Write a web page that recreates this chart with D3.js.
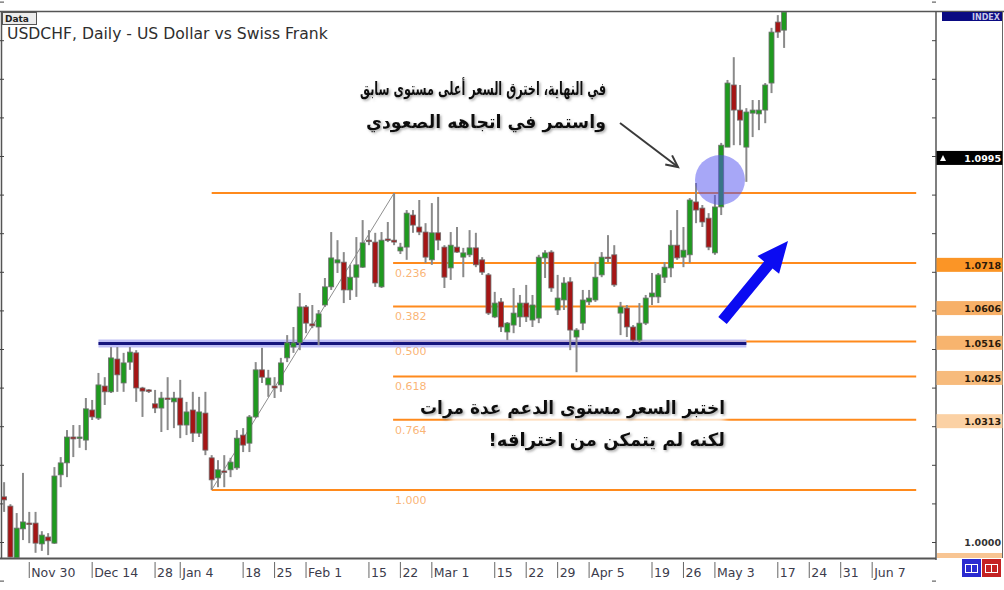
<!DOCTYPE html>
<html><head><meta charset="utf-8">
<script src="https://cdn.jsdelivr.net/npm/d3@7"></script>
<style>html,body{margin:0;padding:0;background:#fff;overflow:hidden}svg{display:block}</style>
</head><body>
<svg id="chart" width="1004" height="590"></svg>
<script>
// ---------------- DATA ----------------
const dates = [
"2009-11-24","2009-11-25","2009-11-26","2009-11-27",
"2009-11-30","2009-12-01","2009-12-02","2009-12-03","2009-12-04",
"2009-12-07","2009-12-08","2009-12-09","2009-12-10","2009-12-11",
"2009-12-14","2009-12-15","2009-12-16","2009-12-17","2009-12-18",
"2009-12-21","2009-12-22","2009-12-23","2009-12-24","2009-12-25",
"2009-12-28","2009-12-29","2009-12-30","2009-12-31",
"2010-01-04","2010-01-05","2010-01-06","2010-01-07","2010-01-08",
"2010-01-11","2010-01-12","2010-01-13","2010-01-14","2010-01-15",
"2010-01-18","2010-01-19","2010-01-20","2010-01-21","2010-01-22",
"2010-01-25","2010-01-26","2010-01-27","2010-01-28","2010-01-29",
"2010-02-01","2010-02-02","2010-02-03","2010-02-04","2010-02-05",
"2010-02-08","2010-02-09","2010-02-10","2010-02-11","2010-02-12",
"2010-02-15","2010-02-16","2010-02-17","2010-02-18","2010-02-19",
"2010-02-22","2010-02-23","2010-02-24","2010-02-25","2010-02-26",
"2010-03-01","2010-03-02","2010-03-03","2010-03-04","2010-03-05",
"2010-03-08","2010-03-09","2010-03-10","2010-03-11","2010-03-12",
"2010-03-15","2010-03-16","2010-03-17","2010-03-18","2010-03-19",
"2010-03-22","2010-03-23","2010-03-24","2010-03-25","2010-03-26",
"2010-03-29","2010-03-30","2010-03-31","2010-04-01","2010-04-02",
"2010-04-05","2010-04-06","2010-04-07","2010-04-08","2010-04-09",
"2010-04-12","2010-04-13","2010-04-14","2010-04-15","2010-04-16",
"2010-04-19","2010-04-20","2010-04-21","2010-04-22","2010-04-23",
"2010-04-26","2010-04-27","2010-04-28","2010-04-29","2010-04-30",
"2010-05-03","2010-05-04","2010-05-05","2010-05-06","2010-05-07",
"2010-05-10","2010-05-11","2010-05-12","2010-05-13","2010-05-14",
"2010-05-17","2010-05-18"];
const holidays = ["2010-01-01"];

const open = [
1.0117,1.0093,0.9959,1.0034,1.0049,1.0049,0.9995,1.0013,0.9997,1.0174,
1.0205,1.0272,1.0269,1.0264,1.0342,1.0321,1.0404,1.0389,1.0474,1.0412,
1.0466,1.0490,1.0399,1.0394,1.0358,1.0347,1.0373,1.0363,1.0373,1.0303,
1.0342,1.0282,1.0334,1.0218,1.0166,1.0184,1.0187,1.0192,1.0277,1.0256,
1.0324,1.0446,1.0407,1.0404,1.0407,1.0477,1.0505,1.0516,1.0609,1.0565,
1.0557,1.0614,1.0661,1.0723,1.0725,1.0653,1.0686,1.0712,1.0782,1.0777,
1.0661,1.0785,1.0782,1.0754,1.0764,1.0847,1.0816,1.0803,1.0731,1.0801,
1.0764,1.0710,1.0764,1.0738,1.0744,1.0762,1.0731,1.0692,1.0583,1.0622,
1.0544,1.0562,1.0583,1.0619,1.0575,1.0580,1.0736,1.0751,1.0601,1.0627,
1.0674,1.0531,1.0567,1.0622,1.0627,1.0692,1.0738,1.0744,1.0593,1.0606,
1.0557,1.0523,1.0567,1.0635,1.0635,1.0686,1.0710,1.0769,1.0738,1.0744,
1.0881,1.0865,1.0839,1.0749,1.0868,1.1023,1.1184,1.1119,1.1023,1.1111,
1.1109,1.1119,1.1189,1.1347,1.1326];
const high = [
1.0155,1.0098,1.0075,1.0179,1.0078,1.0078,1.0028,1.0023,1.0194,1.0220,
1.0290,1.0303,1.0303,1.0373,1.0368,1.0438,1.0427,1.0505,1.0505,1.0490,
1.0505,1.0497,1.0402,1.0396,1.0394,1.0389,1.0427,1.0389,1.0420,1.0363,
1.0389,1.0376,1.0389,1.0225,1.0212,1.0225,1.0218,1.0290,1.0295,1.0329,
1.0466,1.0503,1.0446,1.0427,1.0477,1.0536,1.0557,1.0645,1.0614,1.0614,
1.0601,1.0684,1.0803,1.0782,1.0751,1.0718,1.0790,1.0834,1.0808,1.0801,
1.0803,1.0829,1.0904,1.0775,1.0860,1.0860,1.0886,1.0826,1.0878,1.0894,
1.0769,1.0803,1.0816,1.0762,1.0808,1.0801,1.0738,1.0697,1.0648,1.0632,
1.0570,1.0658,1.0640,1.0666,1.0640,1.0744,1.0756,1.0756,1.0692,1.0686,
1.0686,1.0554,1.0653,1.0653,1.0725,1.0751,1.0795,1.0769,1.0622,1.0614,
1.0562,1.0619,1.0640,1.0697,1.0697,1.0725,1.0808,1.0860,1.0816,1.0891,
1.0930,1.0873,1.0852,1.0899,1.1034,1.1197,1.1256,1.1184,1.1124,1.1145,
1.1145,1.1189,1.1332,1.1365,1.1391];
const low = [
1.0078,0.9959,0.9959,1.0005,0.9997,0.9972,0.9977,0.9966,0.9995,1.0142,
1.0168,1.0220,1.0244,1.0238,1.0316,1.0316,1.0355,1.0386,1.0389,1.0389,
1.0446,1.0363,1.0324,1.0386,1.0334,1.0285,1.0290,1.0295,1.0269,1.0277,
1.0259,1.0272,1.0225,1.0135,1.0142,1.0142,1.0168,1.0187,1.0233,1.0233,
1.0321,1.0412,1.0376,1.0373,1.0389,1.0466,1.0490,1.0497,1.0541,1.0554,
1.0510,1.0609,1.0653,1.0697,1.0619,1.0627,1.0635,1.0710,1.0769,1.0661,
1.0658,1.0777,1.0769,1.0746,1.0731,1.0801,1.0795,1.0723,1.0718,1.0756,
1.0658,1.0679,1.0749,1.0686,1.0738,1.0712,1.0692,1.0588,1.0580,1.0544,
1.0523,1.0541,1.0557,1.0570,1.0557,1.0567,1.0684,1.0648,1.0588,1.0601,
1.0497,1.0440,1.0549,1.0614,1.0622,1.0686,1.0725,1.0661,1.0536,1.0531,
1.0518,1.0516,1.0562,1.0614,1.0619,1.0671,1.0686,1.0731,1.0712,1.0723,
1.0826,1.0816,1.0756,1.0744,1.0847,1.1023,1.1028,1.1028,1.0933,1.1049,
1.1067,1.1085,1.1163,1.1306,1.1280];
const close = [
1.0109,0.9961,1.0036,1.0052,1.0047,0.9997,1.0018,1.0003,1.0171,1.0205,
1.0272,1.0267,1.0272,1.0345,1.0324,1.0407,1.0389,1.0477,1.0433,1.0464,
1.0492,1.0399,1.0391,1.0391,1.0347,1.0373,1.0370,1.0373,1.0303,1.0337,
1.0282,1.0337,1.0238,1.0161,1.0187,1.0181,1.0207,1.0269,1.0251,1.0324,
1.0446,1.0427,1.0425,1.0399,1.0464,1.0516,1.0516,1.0609,1.0567,1.0560,
1.0591,1.0661,1.0736,1.0731,1.0653,1.0686,1.0718,1.0775,1.0780,1.0671,
1.0782,1.0782,1.0777,1.0764,1.0852,1.0821,1.0803,1.0738,1.0801,1.0782,
1.0686,1.0769,1.0751,1.0749,1.0762,1.0718,1.0699,1.0593,1.0619,1.0557,
1.0567,1.0593,1.0619,1.0583,1.0614,1.0738,1.0749,1.0658,1.0632,1.0671,
1.0549,1.0549,1.0627,1.0632,1.0686,1.0738,1.0736,1.0666,1.0609,1.0557,
1.0523,1.0567,1.0632,1.0645,1.0692,1.0712,1.0769,1.0736,1.0756,1.0886,
1.0860,1.0829,1.0764,1.0868,1.1028,1.1189,1.1119,1.1093,1.1114,1.1119,
1.1119,1.1184,1.1321,1.1321,1.1373];

const tickDates  = ["2009-11-30","2009-12-14","2009-12-28","2010-01-04","2010-01-18","2010-01-25","2010-02-01","2010-02-15","2010-02-22","2010-03-01","2010-03-15","2010-03-22","2010-03-29","2010-04-05","2010-04-19","2010-04-26","2010-05-03","2010-05-17","2010-05-24","2010-05-31","2010-06-07"];
const tickLabels = ["Nov 30","Dec 14","28","Jan 4","18","25","Feb 1","15","22","Mar 1","15","22","29","Apr 5","19","26","May 3","17","24","31","Jun 7"];

// Fibonacci retracement (low Jan 11 -> high Feb 19)
const fibLowDate = "2010-01-11", fibHighDate = "2010-02-19", fibEndDate = "2010-06-16";
const fibRatios = [0, 0.236, 0.382, 0.5, 0.618, 0.764, 1];
const fibLabels = ["", "0.236", "0.382", "0.500", "0.618", "0.764", "1.000"];
const priceTags = [1.0718, 1.0606, 1.0516, 1.0425, 1.0313];
const tagColors = ["#fb9526", "#f7b068", "#f7b46e", "#f7bb7c", "#fbd1a4"];
const lastPrice = 1.0995;
const supportPrice = 1.0514, supportStart = "2009-12-15", supportEnd = "2010-05-10";
const axisTicks = d3.range(99, 115).map(v => v / 100);

// ---------------- HELPERS ----------------
const t0 = new Date("2009-11-24T00:00:00Z");
function tIndex(s) {
  const end = new Date(s + "T00:00:00Z");
  let n = 0;
  for (let t = new Date(t0); t < end; t.setUTCDate(t.getUTCDate() + 1)) {
    const wd = t.getUTCDay(), iso = t.toISOString().slice(0, 10);
    if (wd !== 0 && wd !== 6 && !holidays.includes(iso)) n++;
  }
  return n;
}

const svg = d3.select("#chart");
const W = 1004, H = 590;
const plot = {left: 2, right: 936, top: 12, bottom: 558};

const x = d3.scaleLinear().domain([0, 124]).range([4.1, 784.1]);
const y = d3.scaleLinear().domain([1.0, 1.1]).range([542, 156]);

const defs = svg.append("defs");
defs.append("clipPath").attr("id", "clip").append("rect")
  .attr("x", plot.left).attr("y", plot.top).attr("width", plot.right - plot.left).attr("height", plot.bottom - plot.top);
const sh = defs.append("filter").attr("id", "shadow").attr("x", "-10%").attr("y", "-30%").attr("width", "120%").attr("height", "160%");
sh.append("feDropShadow").attr("dx", 1.5).attr("dy", 1.5).attr("stdDeviation", 1).attr("flood-color", "#666").attr("flood-opacity", 0.55);
const bl = defs.append("filter").attr("id", "blur").attr("x", "-20%").attr("y", "-100%").attr("width", "140%").attr("height", "300%");
bl.append("feGaussianBlur").attr("stdDeviation", 3);

svg.append("rect").attr("width", W).attr("height", H).attr("fill", "#fff");

// ---------------- FRAME ----------------
svg.append("line").attr("x1", 0).attr("x2", W).attr("y1", 11.5).attr("y2", 11.5).attr("stroke", "#555").attr("stroke-width", 1.5);
svg.append("line").attr("x1", 1.5).attr("x2", 1.5).attr("y1", 11).attr("y2", 559).attr("stroke", "#555").attr("stroke-width", 1.5);
svg.append("line").attr("x1", 0).attr("x2", 936).attr("y1", 558.5).attr("y2", 558.5).attr("stroke", "#555").attr("stroke-width", 2);
svg.append("line").attr("x1", 936).attr("x2", 936).attr("y1", 11).attr("y2", 560).attr("stroke", "#555").attr("stroke-width", 1.5);
svg.append("line").attr("x1", 1002.5).attr("x2", 1002.5).attr("y1", 11).attr("y2", 558).attr("stroke", "#666").attr("stroke-width", 1);

// left & right axis ticks
svg.append("g")
  .call(d3.axisRight(y).tickValues(axisTicks).tickSize(4).tickFormat(""))
  .call(g => { g.select(".domain").remove(); g.selectAll("line").attr("stroke", "#444"); });
svg.append("g").attr("transform", "translate(936,0)")
  .call(d3.axisLeft(y).tickValues(axisTicks).tickSize(4).tickFormat(""))
  .call(g => { g.select(".domain").remove(); g.selectAll("line").attr("stroke", "#444"); });

const chart = svg.append("g").attr("clip-path", "url(#clip)");

// ---------------- FIBONACCI ----------------
const fHigh = high[tIndex(fibHighDate)], fLow = low[tIndex(fibLowDate)];
const fibData = fibRatios.map((r, k) => ({r, label: fibLabels[k], price: fHigh - r * (fHigh - fLow)}));
const xLowA = x(tIndex(fibLowDate)), xHighA = x(tIndex(fibHighDate)), xEnd = x(tIndex(fibEndDate));

chart.selectAll("line.fib").data(fibData).join("line").attr("class", "fib")
  .attr("x1", d => (d.r === 0 || d.r === 1) ? xLowA : xHighA - 1)
  .attr("x2", xEnd)
  .attr("y1", d => y(d.price)).attr("y2", d => y(d.price))
  .attr("stroke", "#ff8a1c").attr("stroke-width", 2);
chart.selectAll("text.fibl").data(fibData.filter(d => d.label)).join("text").attr("class", "fibl")
  .attr("x", xHighA + 1).attr("y", d => y(d.price) + 14)
  .attr("font-family", "DejaVu Sans, sans-serif").attr("font-size", 11)
  .attr("fill", "#f9a75c").attr("fill-opacity", 0.85).text(d => d.label);
chart.append("line").attr("x1", xLowA).attr("y1", y(fLow)).attr("x2", xHighA).attr("y2", y(fHigh))
  .attr("stroke", "#8f8f8f").attr("stroke-width", 1);

// support line
chart.append("line").attr("x1", x(tIndex(supportStart))).attr("x2", x(tIndex(supportEnd)))
  .attr("y1", y(supportPrice)).attr("y2", y(supportPrice))
  .attr("stroke", "#b4b4f4").attr("stroke-width", 8).attr("stroke-opacity", 0.85);
chart.append("line").attr("x1", x(tIndex(supportStart))).attr("x2", x(tIndex(supportEnd)))
  .attr("y1", y(supportPrice)).attr("y2", y(supportPrice))
  .attr("stroke", "#15157e").attr("stroke-width", 3);

// white haze behind lower annotation
chart.append("rect").attr("x", 450).attr("y", 415).attr("width", 275).attr("height", 12)
  .attr("fill", "#fff").attr("opacity", 0.8).attr("filter", "url(#blur)");

// ---------------- CANDLES ----------------
const candles = dates.map((d, k) => ({i: tIndex(d), o: open[k], h: high[k], l: low[k], c: close[k]}));
chart.selectAll("line.wick").data(candles).join("line").attr("class", "wick")
  .attr("x1", d => x(d.i)).attr("x2", d => x(d.i))
  .attr("y1", d => y(d.h)).attr("y2", d => y(d.l))
  .attr("stroke", "#8a8a8a").attr("stroke-width", 2);
chart.selectAll("rect.body").data(candles).join("rect").attr("class", "body")
  .attr("x", d => x(d.i) - 2.5).attr("width", 5)
  .attr("y", d => Math.min(y(d.o), y(d.c)))
  .attr("height", d => Math.max(1.5, Math.abs(y(d.o) - y(d.c))))
  .attr("fill", d => d.c >= d.o ? "#1f9a1f" : "#a51515")
  .attr("stroke", "#6f6f6f").attr("stroke-width", 0.8);

// ---------------- X AXIS ----------------
const xt = svg.append("g");
tickDates.forEach((d, k) => {
  const xi = x(tIndex(d));
  xt.append("line").attr("x1", xi).attr("x2", xi).attr("y1", 562).attr("y2", 578).attr("stroke", "#666").attr("stroke-width", 1);
  xt.append("text").attr("x", xi + 2).attr("y", 576.5).attr("font-family", "DejaVu Sans, sans-serif")
    .attr("font-size", 12.5).attr("fill", "#3c3c4c").text(tickLabels[k]);
});

// ---------------- RIGHT PANEL ----------------
svg.append("rect").attr("x", 942).attr("y", 12).attr("width", 60).attr("height", 9).attr("fill", "#0a0a82");
svg.append("text").attr("x", 1000).attr("y", 20).attr("text-anchor", "end").attr("font-family", "DejaVu Sans, sans-serif")
  .attr("font-size", 8).attr("font-weight", "bold").attr("fill", "#c8c8e8").text("INDEX");

function tag(price, fill, color, txt, arrow) {
  const yy = y(price);
  svg.append("rect").attr("x", 936.5).attr("y", yy - 7).attr("width", 66).attr("height", 14).attr("fill", fill);
  svg.append("text").attr("x", 1001).attr("y", yy + 4).attr("text-anchor", "end")
    .attr("font-family", "DejaVu Sans, sans-serif").attr("font-size", 9.5).attr("font-weight", "bold")
    .attr("fill", color).text(txt);
  if (arrow) svg.append("path").attr("d", `M${940},${yy + 3} L${943},${yy - 3} L${946},${yy + 3} Z`).attr("fill", "#fff");
}
tag(lastPrice, "#000", "#fff", lastPrice.toFixed(4), true);
priceTags.forEach((p, k) => tag(p, tagColors[k], "#2a1a0a", p.toFixed(4), false));
svg.append("text").attr("x", 1001).attr("y", y(1.0) + 3.5).attr("text-anchor", "end")
  .attr("font-family", "DejaVu Sans, sans-serif").attr("font-size", 9.5).attr("font-weight", "bold")
  .attr("fill", "#333").text((1.0).toFixed(4));
svg.append("rect").attr("x", 937).attr("y", 553).attr("width", 65).attr("height", 5).attr("fill", "#f8c593");

// buttons
[["#2a2ad0", 962], ["#c42222", 982]].forEach(([c, bx]) => {
  svg.append("rect").attr("x", bx).attr("y", 559).attr("width", 19).attr("height", 18).attr("fill", c);
  svg.append("rect").attr("x", bx + 3.5).attr("y", 564.5).attr("width", 12).attr("height", 8).attr("fill", "none").attr("stroke", "#fff").attr("stroke-width", 1);
  svg.append("line").attr("x1", bx + 9.5).attr("x2", bx + 9.5).attr("y1", 565).attr("y2", 572).attr("stroke", "#fff").attr("stroke-width", 1);
});

// ---------------- TITLE ----------------
svg.append("rect").attr("x", 2.5).attr("y", 12.5).attr("width", 34).attr("height", 12).attr("fill", "#ececec").attr("stroke", "#555");
svg.append("text").attr("x", 5).attr("y", 22).attr("font-family", "DejaVu Sans, sans-serif").attr("font-size", 9)
  .attr("font-weight", "bold").attr("fill", "#222").text("Data");
function fitText(sel, target) {
  const w = sel.node().getComputedTextLength();
  const fs = parseFloat(sel.attr("font-size"));
  sel.attr("font-size", fs * target / w);
}
const title = svg.append("text").attr("x", 7).attr("y", 39).attr("font-family", "DejaVu Sans, sans-serif")
  .attr("font-size", 14).attr("fill", "#2e2e2e").text("USDCHF, Daily - US Dollar vs Swiss Frank");
fitText(title, 321);

// ---------------- ANNOTATIONS ----------------
svg.append("circle").attr("cx", 720).attr("cy", 180).attr("r", 25).attr("fill", "rgb(80,80,240)").attr("fill-opacity", 0.5);

(function () {
  const x1 = 620, y1 = 123, x2 = 678, y2 = 167;
  const a = Math.atan2(y2 - y1, x2 - x1), L = 13, s = 0.45;
  svg.append("line").attr("x1", x1).attr("y1", y1).attr("x2", x2).attr("y2", y2).attr("stroke", "#3a3a3a").attr("stroke-width", 2);
  svg.append("path").attr("d", `M${x2 - L * Math.cos(a - s)},${y2 - L * Math.sin(a - s)} L${x2},${y2} L${x2 - L * Math.cos(a + s)},${y2 - L * Math.sin(a + s)}`)
    .attr("fill", "none").attr("stroke", "#3a3a3a").attr("stroke-width", 2);
})();

(function () {
  const tx = 722.5, ty = 320.5, hx = 788, hy = 241;
  const dx = hx - tx, dy = hy - ty, len = Math.hypot(dx, dy);
  const ux = dx / len, uy = dy / len, px = -uy, py = ux;
  const sw = 5.5, hw = 14, hl = 31;
  const bx = hx - ux * hl, by = hy - uy * hl;
  const pts = [
    [tx + px * sw, ty + py * sw], [bx + px * sw, by + py * sw], [bx + px * hw, by + py * hw],
    [hx, hy], [bx - px * hw, by - py * hw], [bx - px * sw, by - py * sw], [tx - px * sw, ty - py * sw]];
  svg.append("polygon").attr("points", pts.map(p => p.join(",")).join(" ")).attr("fill", "#0b0bf2");
})();

// Arabic texts: same glyph size per block, long lines compressed to the reference width
function arabic(txt, xr, yb, size, target) {
  const t = svg.append("text").attr("x", xr).attr("y", yb).attr("direction", "rtl").attr("text-anchor", "start")
    .attr("font-family", "DejaVu Sans, sans-serif").attr("font-weight", "bold").attr("font-size", size)
    .attr("fill", "#111").attr("filter", "url(#shadow)").text(txt);
  const w = t.node().getComputedTextLength();
  if (w > target) t.attr("textLength", target).attr("lengthAdjust", "spacingAndGlyphs");
  return t;
}
arabic("في النهاية، اخترق السعر أعلى مستوى سابق", 606, 95, 18, 246);
arabic("واستمر في اتجاهه الصعودي", 606, 128, 18, 240);
arabic("اختبر السعر مستوى الدعم عدة مرات", 725, 414, 18, 305);
arabic("لكنه لم يتمكن من اختراقه!", 725, 446, 18, 267);
</script>
</body></html>
